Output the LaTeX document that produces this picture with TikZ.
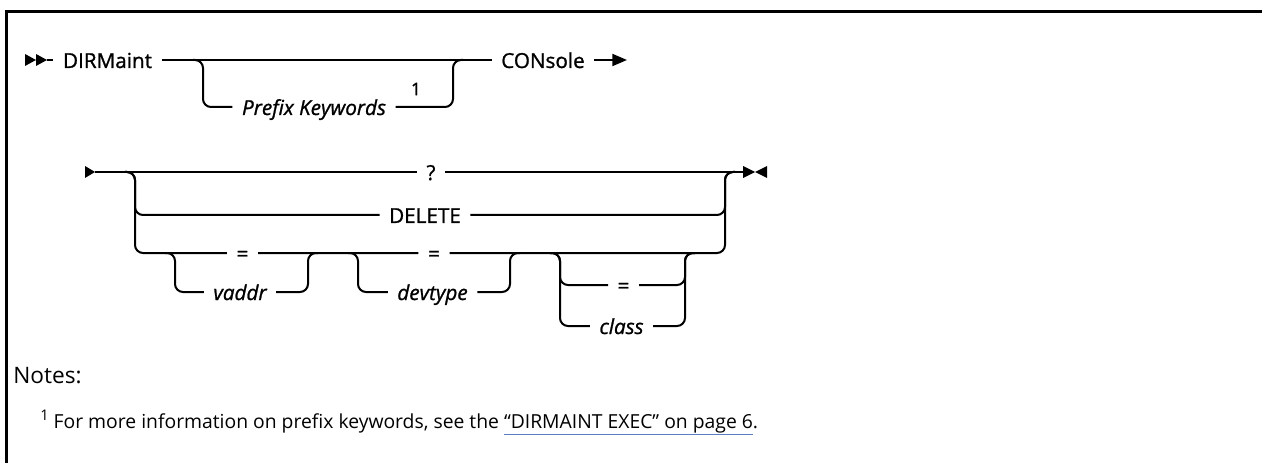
\documentclass[tikz,border=0pt]{standalone}
\usepackage{fontspec}
\setmainfont{Open Sans}
\newfontfamily\railfont[FakeBold=1.1]{Open Sans}
\usetikzlibrary{arrows.meta}
\definecolor{linkblue}{RGB}{90,125,195}
\tikzset{
  rail/.style={line width=1.5pt, rounded corners=6},
  kw/.style={inner xsep=7pt, inner ysep=0pt, text height=12pt, text depth=0pt,
    font=\railfont\fontsize{15.5}{18}\selectfont},
  var/.style={kw, font=\railfont\fontsize{15.5}{18}\selectfont\itshape},
}

\begin{document}
\begin{tikzpicture}[x=0.75pt,y=-0.75pt]
    \useasboundingbox (0,0) rectangle (1262,463);
    \draw[line width=2.25pt] (6.5,463) -- (6.5,11.5) -- (1262,11.5);

    \node[kw] (dirm) at (107.5,60) {DIRMaint};
    \node[kw] (cons) at (543,60) {CONsole};
    \node[var] (pfx) at (314,107) {Prefix Keywords};
    \node[font=\railfont\fontsize{13}{15}\selectfont, inner sep=0pt] (ref1) at (416,89) {1};

    \coordinate (s1) at (47,60);
    \coordinate (p0) at (193,60);
    \coordinate (p1) at (203,60);
    \coordinate (p2) at (453,60);
    \coordinate (p3) at (463,60);
    \coordinate (e1) at (627,60);

    \fill (25,54) -- (36,60) -- (25,66) -- cycle;
    \fill (36,54) -- (47,60) -- (36,66) -- cycle;
    \draw[rail] (s1) -- (dirm) -- (cons);
    \draw[rail] (p0) -- (p1) |- (pfx);
    \draw[rail] (pfx) -| (p2) -- (p3);
    \draw[rail,-{Triangle[length=11pt,width=9pt]}] (cons) -- (e1);

    \node[kw] (qm) at (431,172) {?};
    \node[kw] (del) at (425,215) {DELETE};
    \node[kw] (eqa) at (242.5,253) {=};
    \node[kw] (eqb) at (434,253) {=};
    \node[var] (vaddr) at (240,292) {vaddr};
    \node[var] (devt) at (432.5,292) {devtype};
    \node[kw] (eqc) at (623.5,285) {=};
    \node[var] (cls) at (621.5,326) {class};

    \coordinate (b0) at (95,172);
    \coordinate (bl0) at (125,172);
    \coordinate (bl) at (135,172);
    \coordinate (br) at (725,172);
    \coordinate (br0) at (735,172);
    \coordinate (b9) at (743,172);
    \coordinate (va0) at (165,253);
    \coordinate (va1) at (175,253);
    \coordinate (va2) at (308,253);
    \coordinate (va3) at (318,253);
    \coordinate (dv0) at (348,253);
    \coordinate (dv1) at (358,253);
    \coordinate (dv2) at (510,253);
    \coordinate (dv3) at (520,253);
    \coordinate (cl0) at (550,253);
    \coordinate (cl1) at (560,253);
    \coordinate (cl2) at (685,253);
    \coordinate (cl3) at (695,253);

    \fill (85,166) -- (95,172) -- (85,178) -- cycle;
    \fill (743,166) -- (755,172) -- (743,178) -- cycle;
    \fill (767,166) -- (755,172) -- (767,178) -- cycle;

    \draw[rail] (b0) -- (qm) -- (b9);
    \draw[rail] (bl0) -- (bl) |- (del);
    \draw[rail] (bl0) -- (bl) |- (eqa);
    \draw[rail] (del) -| (br) -- (br0);
    \draw[rail] (eqa) -- (eqb) -| (br) -- (br0);
    \draw[rail] (va0) -- (va1) |- (vaddr);
    \draw[rail] (vaddr) -| (va2) -- (va3);
    \draw[rail] (dv0) -- (dv1) |- (devt);
    \draw[rail] (devt) -| (dv2) -- (dv3);
    \draw[rail] (cl0) -- (cl1) |- (eqc);
    \draw[rail] (cl0) -- (cl1) |- (cls);
    \draw[rail] (eqc) -| (cl2) -- (cl3);
    \draw[rail] (cls) -| (cl2) -- (cl3);

    \node[anchor=base west, inner sep=0pt, font=\fontsize{17}{20}\selectfont] (notes) at (13,383) {Notes:};
    \node[anchor=base west, inner sep=0pt, font=\fontsize{14.5}{17}\selectfont] (fn) at (40,428)
      {\raisebox{6pt}{\fontsize{11}{12}\selectfont 1} For more information on prefix keywords, see the
       {\color{linkblue}\underline{\color{black}“DIRMAINT EXEC” on page 6}}.};
\end{tikzpicture}
\end{document}
